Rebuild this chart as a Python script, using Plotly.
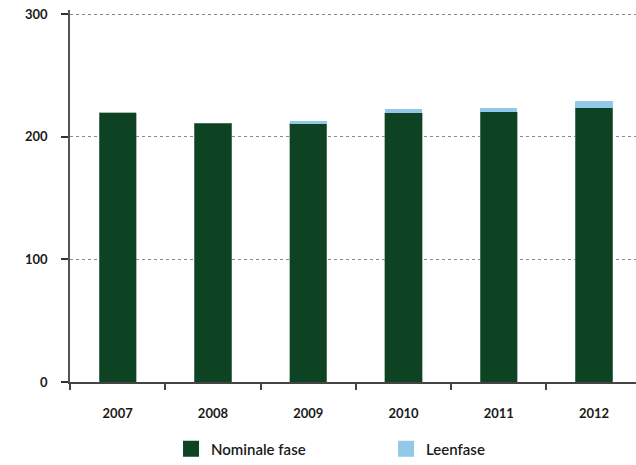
import plotly.graph_objects as go

years = ["2007", "2008", "2009", "2010", "2011", "2012"]
nominale = [219.5, 211, 211, 219.5, 220.5, 223.5]
leenfase = [0, 0, 1.5, 3, 3, 5.5]
y_ticks = [0, 100, 200, 300]
series_names = ["Nominale fase", "Leenfase"]
series_colors = ["#0d4223", "#92c9e9"]

fig = go.Figure()
fig.add_trace(go.Bar(x=years, y=nominale, name=series_names[0], showlegend=False,
                     marker=dict(color=series_colors[0], line=dict(color="#6f8f7c", width=0.6)),
                     width=0.39))
fig.add_trace(go.Bar(x=years, y=leenfase, name=series_names[1], showlegend=False,
                     marker=dict(color=series_colors[1], line=dict(width=0)),
                     width=0.39))
# legend entries with larger square swatches
for nm, col in zip(series_names, series_colors):
    fig.add_trace(go.Scatter(x=[None], y=[None], mode="markers", name=nm,
                             marker=dict(symbol="square", size=16, color=col)))

fig.update_layout(
    width=636, height=465,
    barmode="stack",
    margin=dict(l=70, r=0, t=10, b=83, autoexpand=False),
    plot_bgcolor="white", paper_bgcolor="white",
    font=dict(family="Lato", color="#1a1a1a"),
    showlegend=True,
    legend=dict(orientation="h", xref="container", yref="container",
                x=0.2689, xanchor="left", y=0.0344, yanchor="middle",
                font=dict(size=15, family="Lato", weight=600, color="#1a1a1a"),
                entrywidth=170, itemwidth=30, traceorder="normal", bgcolor="rgba(0,0,0,0)"),
)
fig.update_xaxes(
    type="category", range=[-0.5, 5.44], automargin=False,
    showline=True, linecolor="#444", linewidth=1.5,
    ticks="outside", tickson="boundaries", ticklen=6, tickcolor="#444", tickwidth=1.5,
    tickfont=dict(size=13, family="Lato", weight="bold", color="#1a1a1a"),
    ticklabelstandoff=19, showgrid=False,
)
fig.update_yaxes(
    range=[0, 303.26], tickvals=y_ticks, automargin=False,
    showline=True, linecolor="#555", linewidth=1.5,
    ticks="outside", ticklen=7, tickcolor="#333", tickwidth=1.5,
    tickfont=dict(size=13, family="Lato", weight="bold", color="#1a1a1a"),
    ticklabelstandoff=11,
    showgrid=True, gridcolor="#8a8a8a", griddash="dot", gridwidth=1,
    zeroline=False,
)
fig.write_html("out.html", config={"displayModeBar": False},
               post_script="document.body.style.margin='0';")
